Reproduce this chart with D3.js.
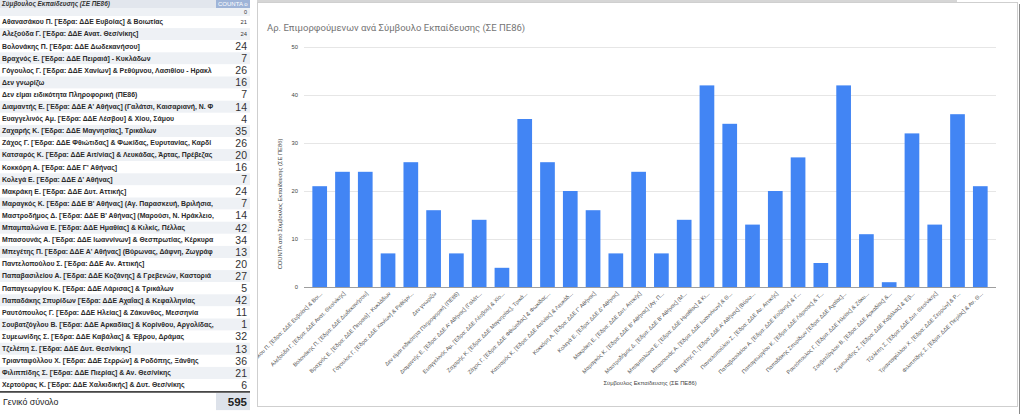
<!DOCTYPE html>
<html><head><meta charset="utf-8">
<script src="https://cdn.jsdelivr.net/npm/d3@7"></script>
<style>
html,body{margin:0;padding:0;background:#fff;}
svg{display:block;font-family:"Liberation Sans",Arial,sans-serif;}
</style></head>
<body>
<svg id="chart" width="1024" height="414"></svg>
<script>
// ---- data ----
const tableHeader = ["Σύμβουλος Εκπαίδευσης (ΣΕ ΠΕ86)", "COUNTA ο"];
const counselors = [
  "Αθανασάκου Π. [Έδρα: ΔΔΕ Ευβοίας] & Βοιωτίας",
  "Αλεξούδα Γ. [Έδρα: ΔΔΕ Ανατ. Θεσ/νίκης]",
  "Βολονάκης Π. [Έδρα: ΔΔΕ Δωδεκανήσου]",
  "Βραχνός Ε. [Έδρα: ΔΔΕ Πειραιά] - Κυκλάδων",
  "Γόγουλος Γ. [Έδρα: ΔΔΕ Χανίων] & Ρεθύμνου, Λασιθίου - Ηρακλείου",
  "Δεν γνωρίζω",
  "Δεν είμαι ειδικότητα Πληροφορική (ΠΕ86)",
  "Διαμαντής Ε. [Έδρα: ΔΔΕ Α' Αθήνας] (Γαλάτσι, Καισαριανή, Ν. Φιλαδέλφεια)",
  "Ευαγγελινός Αμ. [Έδρα: ΔΔΕ Λέσβου] & Χίου, Σάμου",
  "Ζαχαρής Κ. [Έδρα: ΔΔΕ Μαγνησίας], Τρικάλων",
  "Ζάχος Γ. [Έδρα: ΔΔΕ Φθιώτιδας] & Φωκίδας, Ευρυτανίας, Καρδίτσας",
  "Κατσαρός Κ. [Έδρα: ΔΔΕ Αιτ/νίας] & Λευκάδας, Άρτας, Πρέβεζας",
  "Κοκκόρη Α. [Έδρα: ΔΔΕ Γ' Αθήνας]",
  "Κολεγά Ε. [Έδρα: ΔΔΕ Δ' Αθήνας]",
  "Μακράκη Ε. [Έδρα: ΔΔΕ Δυτ. Αττικής]",
  "Μαραγκός Κ. [Έδρα: ΔΔΕ Β' Αθήνας] (Αγ. Παρασκευή, Βριλήσια, Χαλάνδρι)",
  "Μαστροδήμος Δ. [Έδρα: ΔΔΕ Β' Αθήνας] (Μαρούσι, Ν. Ηράκλειο, Κηφισιά)",
  "Μπαμπαλώνα Ε. [Έδρα: ΔΔΕ Ημαθίας] & Κιλκίς, Πέλλας",
  "Μπασουνάς Α. [Έδρα: ΔΔΕ Ιωαννίνων] & Θεσπρωτίας, Κέρκυρας",
  "Μπεγέτης Π. [Έδρα: ΔΔΕ Α' Αθήνας] (Βύρωνας, Δάφνη, Ζωγράφου)",
  "Παντελοπούλου Σ. [Έδρα: ΔΔΕ Αν. Αττικής]",
  "Παπαβασιλείου Α. [Έδρα: ΔΔΕ Κοζάνης] & Γρεβενών, Καστοριάς",
  "Παπαγεωργίου Κ. [Έδρα: ΔΔΕ Λάρισας] & Τρικάλων",
  "Παπαδάκης Σπυρίδων [Έδρα: ΔΔΕ Αχαΐας] & Κεφαλληνίας",
  "Ραυτόπουλος Γ. [Έδρα: ΔΔΕ Ηλείας] & Ζάκυνθος, Μεσσηνία",
  "Σουβατζόγλου Β. [Έδρα: ΔΔΕ Αρκαδίας] & Κορίνθου, Αργολίδας, Λακωνίας",
  "Συμεωνίδης Σ. [Έδρα: ΔΔΕ Καβάλας] & Έβρου, Δράμας",
  "Τζελέπη Σ. [Έδρα: ΔΔΕ Δυτ. Θεσ/νίκης]",
  "Τριανταφύλλου Χ. [Έδρα: ΔΔΕ Σερρών] & Ροδόπης, Ξάνθης",
  "Φιλιππίδης Σ. [Έδρα: ΔΔΕ Πιερίας] & Αν. Θεσ/νίκης",
  "Χερτούρας Κ. [Έδρα: ΔΔΕ Χαλκιδικής] & Δυτ. Θεσ/νίκης"
];
const counts = [21,24,24,7,26,16,7,14,4,35,26,20,16,7,24,7,14,42,34,13,20,27,5,42,11,1,32,13,36,21,6];
const blankRowCount = 0;
const totalLabel = "Γενικό σύνολο";
const totalValue = 595;
const chartRows = 30; // chart data range covers the first 30 counselors
const yTicks = [0,10,20,30,40,50];
const chartTitle = "Αρ. Επιμορφούμενων ανά Σύμβουλο Εκπαίδευσης (ΣΕ ΠΕ86)";
const xTitle = "Σύμβουλος Εκπαίδευσης (ΣΕ ΠΕ86)";
const yTitle = "COUNTA από Σύμβουλος Εκπαίδευσης (ΣΕ ΠΕ86)";

const svg = d3.select("#chart");
const defs = svg.append("defs");

function fitText(t, full, maxW, suffix) {
  if (t.node().getComputedTextLength() <= maxW) return;
  let s = full;
  while (s.length > 1) {
    s = s.slice(0, -1);
    t.text(s.trimEnd() + suffix);
    if (t.node().getComputedTextLength() <= maxW) break;
  }
}

// ---------------- TABLE ----------------
const tW = 250, nameW = 216;
const table = svg.append("g");
// header
table.append("rect").attr("x",0).attr("y",0).attr("width",nameW).attr("height",8).attr("fill","#e2e6ed");
table.append("rect").attr("x",nameW).attr("y",0).attr("width",tW-nameW).attr("height",8).attr("fill","#9fb4d8");
table.append("text").attr("x",2).attr("y",6).attr("font-size",6.4).attr("font-weight","bold").attr("font-style","italic")
  .attr("fill","#333").text(tableHeader[0]);
const hc = table.append("text").attr("x",nameW+2).attr("y",6).attr("font-size",6).attr("fill","#fff").text(tableHeader[1]);
fitText(hc, tableHeader[1], tW-nameW-3, "");
// blank row
table.append("rect").attr("x",0).attr("y",8).attr("width",tW).attr("height",8).attr("fill","#eef1f5");
table.append("text").attr("x",tW-3).attr("y",14).attr("text-anchor","end").attr("font-size",5.5).attr("fill","#333").text(blankRowCount);

const rowY = d3.scaleLinear().domain([0,1]).range([16,28.1]);
const rows = table.selectAll("g.row").data(counselors.map((n,i)=>({name:n,count:counts[i],i})))
  .join("g").attr("class","row").attr("transform",d=>`translate(0,${rowY(d.i)})`);
rows.append("rect").attr("x",0).attr("y",0).attr("width",tW).attr("height",12.1)
  .attr("fill",d=>d.i%2===1?"#eef1f5":"#ffffff");
rows.append("text").attr("x",2).attr("y",8.4).attr("font-size",6.9).attr("font-weight","bold").attr("fill","#2a2a2a")
  .text(d=>d.name).each(function(d){ fitText(d3.select(this), d.name, nameW-4, ""); });
rows.append("text").attr("x",tW-3).attr("y",d=>d.i<2?8:9.8).attr("text-anchor","end")
  .attr("font-size",d=>d.i<2?5.8:10.5).attr("fill","#333").text(d=>d.count);
// total
const totTop = rowY(counselors.length);
table.append("rect").attr("x",0).attr("y",totTop).attr("width",tW).attr("height",1.6).attr("fill","#333");
table.append("rect").attr("x",nameW).attr("y",totTop+2).attr("width",tW-nameW).attr("height",17).attr("fill","#dde2ea");
table.append("text").attr("x",3).attr("y",totTop+14).attr("font-size",8.8).attr("fill","#222").text(totalLabel);
table.append("text").attr("x",tW-3).attr("y",totTop+14.5).attr("text-anchor","end").attr("font-size",11.5)
  .attr("font-weight","bold").attr("fill","#222").text(totalValue);

// ---------------- CHART ----------------
const frame = {x:257, y:2, w:760, h:404};
svg.append("rect").attr("x",frame.x).attr("y",0).attr("width",700).attr("height",3).attr("fill","#d6d6d6");
svg.append("rect").attr("x",frame.x+0.5).attr("y",frame.y+0.5).attr("width",frame.w).attr("height",frame.h)
  .attr("fill","#fff").attr("stroke","#cfcfcf");
svg.append("line").attr("x1",1019.5).attr("x2",1019.5).attr("y1",4).attr("y2",414).attr("stroke","#8a8a8a").attr("stroke-width",1);
defs.append("clipPath").attr("id","frameClip").append("rect").attr("x",frame.x+1).attr("y",frame.y+1).attr("width",frame.w-1).attr("height",frame.h-1);

const g = svg.append("g").attr("clip-path","url(#frameClip)");
g.append("text").attr("x",267).attr("y",31).attr("font-size",9.5).attr("fill","#757575")
  .attr("font-family","Roboto, 'Liberation Sans', Arial, sans-serif").text(chartTitle);

const cats = counselors.slice(0, chartRows);
const vals = counts.slice(0, chartRows);
const x = d3.scaleBand().domain(cats).range([304, 996]).paddingInner(0.355).paddingOuter(0.367);
const y = d3.scaleLinear().domain([0,50]).range([287,47]);

// grid + y axis
const yAxis = d3.axisLeft(y).tickValues(yTicks).tickSize(-(996-304)).tickPadding(6).tickFormat(d3.format("d"));
const ya = g.append("g").attr("transform","translate(304,0)").call(yAxis);
ya.select(".domain").remove();
ya.selectAll(".tick line").attr("stroke","#e6e6e6");
ya.selectAll(".tick text").attr("font-size",5.8).attr("fill","#444").attr("x",-6);

// bars
g.selectAll("rect.bar").data(cats.map((c,i)=>({c,v:vals[i]}))).join("rect").attr("class","bar")
  .attr("x",d=>x(d.c)).attr("width",x.bandwidth())
  .attr("y",d=>y(d.v)).attr("height",d=>y(0)-y(d.v)).attr("fill","#4285f4");

// baseline
g.append("line").attr("x1",304).attr("x2",996).attr("y1",y(0)+0.5).attr("y2",y(0)+0.5).attr("stroke","#9e9e9e");

// x labels
const maxW = 114;
const xl = g.append("g");
cats.forEach(c=>{
  const t = xl.append("text")
    .attr("transform",`translate(${x(c)+x.bandwidth()/2+3},${y(0)+7}) rotate(-45)`)
    .attr("text-anchor","end").attr("font-size",5.6).attr("fill","#555").text(c);
  fitText(t, c, maxW, "...");
});

// axis titles
g.append("text").attr("x",650).attr("y",385).attr("text-anchor","middle").attr("font-size",5.8).attr("fill","#444").text(xTitle);
g.append("text").attr("transform","translate(282,204) rotate(-90)").attr("text-anchor","middle")
  .attr("font-size",5.8).attr("fill","#444").text(yTitle);
</script>
</body></html>
